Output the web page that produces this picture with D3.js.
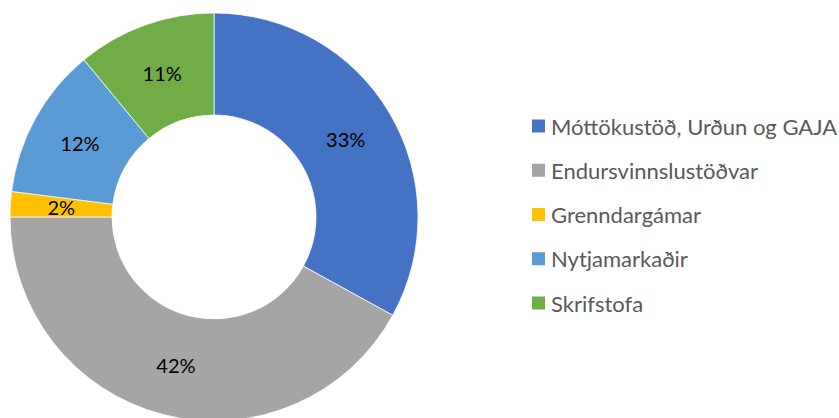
<!DOCTYPE html>
<html>
<head>
<meta charset="utf-8">
<script src="https://cdn.jsdelivr.net/npm/d3@7"></script>
<style>
  html, body { margin: 0; padding: 0; background: #fff; }
  svg { display: block; }
</style>
</head>
<body>
<svg id="chart" width="839" height="418"></svg>
<script>
// Share of items by unit
const categories = ["Móttökustöð, Urðun og GAJA", "Endursvinnslustöðvar", "Grenndargámar", "Nytjamarkaðir", "Skrifstofa"];
const values = [33, 42, 2, 12, 11];
const colors = ["#4472C4", "#A5A5A5", "#FFC000", "#5B9BD5", "#70AD47"];

const svg = d3.select("#chart");
const cx = 214, cy = 217, outerR = 204, innerR = 102;
const fontFamily = "Lato, 'Open Sans', sans-serif";

const total = d3.sum(values);
const pie = d3.pie().sort(null).value(d => d)(values);
const arc = d3.arc().innerRadius(innerR).outerRadius(outerR);
const labelArc = d3.arc().innerRadius((innerR + outerR) / 2).outerRadius((innerR + outerR) / 2);

const g = svg.append("g").attr("transform", `translate(${cx},${cy})`);

g.selectAll("path")
  .data(pie)
  .join("path")
  .attr("d", arc)
  .attr("fill", (d, i) => colors[i])
  .attr("stroke", "#fff")
  .attr("stroke-width", 0.75);

g.selectAll("text.lbl")
  .data(pie)
  .join("text")
  .attr("class", "lbl")
  .attr("transform", d => `translate(${labelArc.centroid(d)})`)
  .attr("text-anchor", "middle")
  .attr("dominant-baseline", "central")
  .attr("font-family", fontFamily)
  .attr("font-size", 20)
  .attr("fill", "#000")
  .text(d => Math.round(d.value / total * 100) + "%");

// Legend
const legendY = d3.scalePoint().domain(categories).range([126, 303]);
const legend = svg.append("g");
const rows = legend.selectAll("g")
  .data(categories)
  .join("g")
  .attr("transform", d => `translate(532,${legendY(d)})`);

rows.append("rect")
  .attr("x", 0).attr("y", -6.5)
  .attr("width", 13).attr("height", 13)
  .attr("fill", (d, i) => colors[i]);

rows.append("text")
  .attr("x", 19)
  .attr("dominant-baseline", "central")
  .attr("font-family", fontFamily)
  .attr("font-size", 22)
  .attr("fill", "#595959")
  .text(d => d);
</script>
</body>
</html>
